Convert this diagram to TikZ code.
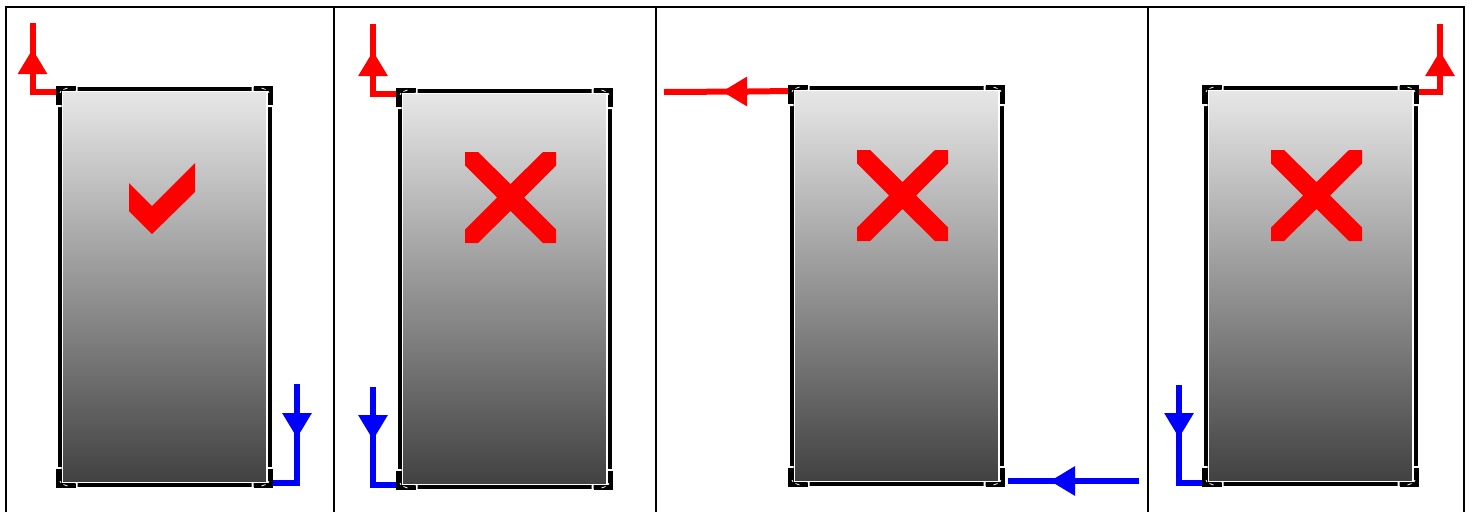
\documentclass[tikz,border=0pt]{standalone}
\usepackage{tikz}
\usetikzlibrary{arrows.meta, positioning}
\definecolor{mtop}{HTML}{E8E8E8}
\definecolor{mbottom}{HTML}{404040}
\tikzset{
  wbox/.style={draw=black, line width=4pt, top color=mtop, bottom color=mbottom,
               minimum width=210pt, minimum height=396pt, inner sep=0pt, outer sep=0pt,
               path picture={\draw[white, line width=6.5pt]
                 (path picture bounding box.south west) rectangle
                 (path picture bounding box.north east);}},
  rarr/.style={red, line width=6pt},
  barr/.style={blue, line width=6pt},
  tip/.style={-{Triangle[length=25pt, width=28pt]}},
  panel/.style={black, line width=2pt},
  mcheck/.pic={\fill[red] (-33,-12) -- (-10,11) -- (33,-32) -- (33,-3) -- (-10,39) -- (-33,16) -- cycle;},
  mcross/.pic={\fill[red] (-45.5,-45.5) -- (-32.5,-45.5) -- (0,-13.5) -- (32.5,-45.5) -- (45.5,-45.5)
    -- (45.5,-32) -- (13.5,0) -- (45.5,32) -- (45.5,45.5) -- (32.5,45.5) -- (0,13.5) -- (-32.5,45.5)
    -- (-45.5,45.5) -- (-45.5,32) -- (-13.5,0) -- (-45.5,-32) -- cycle;},
  mcorner/.pic={
    \fill[white] (16,-2.5) rectangle (18,2.2) (-2.5,16) rectangle (2.2,18);
    \draw[black, line width=4.5pt, line join=miter] (16,-0.8) -- (-0.8,-0.8) -- (-0.8,16);
    \draw[white, line width=0.8pt] (0.5,4) -- (1.5,2) (4,0.5) -- (8,-1);},
}
\begin{document}
\begin{tikzpicture}[x=1pt, y=-1pt]
  \useasboundingbox (0,0) rectangle (1473,512);
  % panels
  \draw[panel] (6,512) -- (6,7) -- (1464,7) -- (1464,512);
  \foreach \x in {333.5,655.5,1147.5} \draw[panel] (\x,7) -- (\x,512);
  % windows
  \node[wbox] (w1) at (164.5,287) {};
  \node[wbox] (w2) at (504.5,289) {};
  \node[wbox] (w3) at (896.5,286) {};
  \node[wbox] (w4) at (1310.5,286) {};
  % marks
  \pic at (162,195) {mcheck};
  \pic at (510.5,197.5) {mcross};
  \pic at (902.5,195.5) {mcross};
  \pic at (1316.5,195.5) {mcross};
  % free ends
  \coordinate (r1) at (32.5,23);
  \coordinate (r1m) at (32.5,74);
  \coordinate (b1) at (297,384);
  \coordinate (b1m) at (297,413);
  \coordinate (r2) at (373,24);
  \coordinate (r2m) at (373,76);
  \coordinate (b2) at (373,387);
  \coordinate (b2m) at (373,415);
  \coordinate (r3) at (664,92);
  \coordinate (r3m) at (748,91.5);
  \coordinate (b3) at (1139,481);
  \coordinate (b3m) at (1077,481);
  \coordinate (r4) at (1440,24);
  \coordinate (r4m) at (1440,76);
  \coordinate (b4) at (1179,385);
  \coordinate (b4m) at (1179,413);
  % first panel
  \draw[rarr, tip] ([yshift=-3pt]w1.north west) -| (r1m) -- ++(0,-25);
  \draw[rarr] (r1m) -- (r1);
  \draw[barr] (b1) -- (b1m);
  \draw[barr, tip] (b1m) -- ++(0,25);
  \draw[barr] (b1m) |- ([yshift=2.5pt]w1.south east);
  % second panel
  \draw[rarr, tip] ([yshift=-3pt]w2.north west) -| (r2m) -- ++(0,-25);
  \draw[rarr] (r2m) -- (r2);
  \draw[barr] (b2) -- (b2m);
  \draw[barr, tip] (b2m) -- ++(0,25);
  \draw[barr] (b2m) |- ([yshift=2pt]w2.south west);
  % third panel
  \draw[rarr] ([yshift=-3pt]w3.north west) -- (r3m);
  \draw[rarr, tip] (r3m) -- ++(-26,0);
  \draw[rarr] (r3m) -- (r3);
  \draw[barr] (b3) -- (b3m);
  \draw[barr, tip] (b3m) -- ++(-27,0);
  \draw[barr] (b3m) -- ([xshift=6pt,yshift=3pt]w3.south east);
  % fourth panel
  \draw[rarr, tip] ([yshift=-4pt]w4.north east) -| (r4m) -- ++(0,-25);
  \draw[rarr] (r4m) -- (r4);
  \draw[barr] (b4) -- (b4m);
  \draw[barr, tip] (b4m) -- ++(0,25);
  \draw[barr] (b4m) |- ([yshift=1pt]w4.south west);
  % corners
  \foreach \w in {w1,w2,w3,w4}
    \foreach \c/\sx/\sy in {north west/1/1, north east/-1/1, south west/1/-1, south east/-1/-1}
      \pic[xscale=\sx, yscale=\sy] at (\w.\c) {mcorner};
\end{tikzpicture}
\end{document}
